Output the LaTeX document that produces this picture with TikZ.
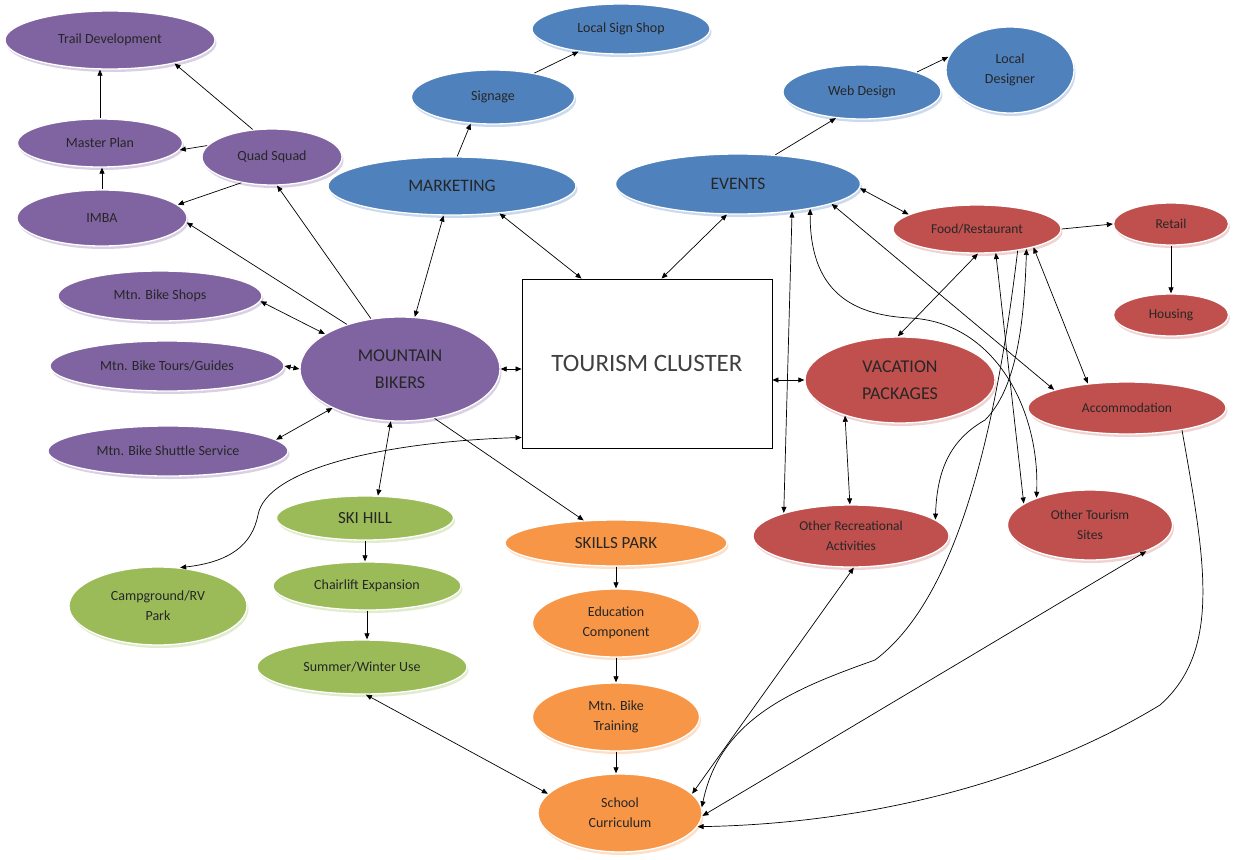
\documentclass[tikz,border=0pt]{standalone}
\usepackage{fontspec}
\setmainfont{Carlito}
\usetikzlibrary{shapes.geometric,shadows,arrows.meta}
\definecolor{mbpurple}{HTML}{8064A2}
\definecolor{mbblue}{HTML}{4F81BD}
\definecolor{mbred}{HTML}{C0504D}
\definecolor{mbgreen}{HTML}{9BBB59}
\definecolor{mborange}{HTML}{F79646}

\begin{document}
\begin{tikzpicture}[x=1pt,y=-1pt,
  bub/.style={ellipse, draw=white, line width=1.3pt, inner sep=0pt, align=center,
    text=black!85, font=\fontsize{14}{20}\selectfont},
  sz/.style 2 args={minimum width=#1pt, minimum height=#2pt},
  pur/.style={bub, fill=mbpurple, drop shadow={shadow xshift=1.5pt, shadow yshift=-3pt, fill=mbpurple!30, opacity=1}},
  blu/.style={bub, fill=mbblue, drop shadow={shadow xshift=1.5pt, shadow yshift=-3pt, fill=mbblue!30, opacity=1}},
  rd/.style={bub, fill=mbred, font=\fontsize{13.5}{20}\selectfont, drop shadow={shadow xshift=1.5pt, shadow yshift=-3pt, fill=mbred!25, opacity=1}},
  grn/.style={bub, fill=mbgreen, drop shadow={shadow xshift=1.5pt, shadow yshift=-3pt, fill=mbgreen!30, opacity=1}},
  org/.style={bub, fill=mborange, drop shadow={shadow xshift=1.5pt, shadow yshift=-3pt, fill=mborange!30, opacity=1}},
  big/.style={font=\fontsize{18}{27}\selectfont},
  link/.style={-{Triangle[length=6pt,width=5pt]}, line width=0.7pt},
  both/.style={{Triangle[length=6pt,width=5pt]}-{Triangle[length=6pt,width=5pt]}, line width=0.7pt}]

\useasboundingbox (0,0) rectangle (1238,859);

% mountain bikers and their links
\node[pur, sz={210}{58}] (td) at (110,40) {Trail Development};
\node[pur, sz={165}{48}] (mp) at (100,143) {Master Plan};
\node[pur, sz={140}{56}] (qs) at (272,157) {Quad Squad};
\node[pur, sz={170}{56}] (imba) at (102,218) {IMBA};
\node[pur, sz={204}{50}] (shops) at (160,296) {Mtn. Bike Shops};
\node[pur, sz={234}{50}] (tours) at (167,366) {Mtn. Bike Tours/Guides};
\node[pur, sz={240}{50}] (shuttle) at (168,451) {Mtn. Bike Shuttle Service};
\node[pur, big, sz={200}{104}] (mb) at (400,369) {MOUNTAIN\\BIKERS};

% marketing and events
\node[blu, big, font=\fontsize{17.5}{20}\selectfont, sz={248}{58}] (mkt) at (452,186) {MARKETING};
\node[blu, sz={163}{54}] (sign) at (493,97) {Signage};
\node[blu, sz={178}{50}] (signshop) at (621,29) {Local Sign Shop};
\node[blu, font=\fontsize{17.5}{20}\selectfont, sz={245}{60}] (events) at (738,184) {EVENTS};
\node[blu, sz={158}{54}] (web) at (862,92) {Web Design};
\node[blu, sz={128}{86}] (designer) at (1010,70) {Local\\Designer};

% the cluster box
\node[draw, line width=0.9pt, minimum width=250pt, minimum height=169pt,
  font=\fontsize{25}{30}\selectfont, text=black!75] (tc) at (647,363.5) {TOURISM CLUSTER};

% red group
\node[rd, sz={168}{48}] (food) at (977,229) {Food/Restaurant};
\node[rd, sz={115}{42}] (retail) at (1171,224) {Retail};
\node[rd, sz={115}{42}] (housing) at (1171,315) {Housing};
\node[rd, big, sz={190}{86}] (vac) at (900,380) {VACATION\\PACKAGES};
\node[rd, sz={198}{52}] (accom) at (1127,408) {Accommodation};
\node[rd, sz={196}{62}] (orec) at (851,536) {Other Recreational\\Activities};
\node[rd, sz={165}{70}] (otour) at (1090,525) {Other Tourism\\Sites};

% green and orange chains
\node[grn, font=\fontsize{17}{20}\selectfont, sz={177}{44}] (ski) at (365,518) {SKI HILL};
\node[grn, sz={188}{48}] (chair) at (367,586) {Chairlift Expansion};
\node[grn, sz={210}{54}] (summer) at (362,667) {Summer/Winter Use};
\node[grn, sz={178}{78}] (camp) at (158,606) {Campground/RV\\Park};
\node[org, font=\fontsize{17}{20}\selectfont, sz={222}{46}] (skills) at (616,543) {SKILLS PARK};
\node[org, sz={167}{68}] (edu) at (616,623) {Education\\Component};
\node[org, sz={167}{68}] (train) at (616,717) {Mtn. Bike\\Training};
\node[org, sz={164}{78}] (school) at (620,813) {School\\Curriculum};

% purple links
\draw[link] (mp.north) -- (mp.north |- td.south);
\draw[link] (imba.north) -- (imba.north |- mp.south);
\draw[link] (qs.125) -- (td.-20);
\draw[link] (qs.170) -- (mp.-5);
\draw[link] (qs.220) -- (imba.10);
\draw[link] (mb.120) -- (qs.-80);
\draw[link] (mb.140) -- (imba.-3);
\draw[both] (shops.-3) -- (mb.155);
\draw[both] (tours.east) -- (mb.west);
\draw[both] (shuttle.6) -- (mb.-150);

% blue links
\draw[both] (mb) -- (mkt);
\draw[link] (mkt.80) -- (sign.-130);
\draw[link] (sign.30) -- (signshop.-152);
\draw[both] (mkt.-30) -- ([xshift=60pt]tc.north west);
\draw[both] (events.-110) -- ([xshift=140pt]tc.north west);
\draw[link] (events.38) -- (web.-135);
\draw[link] (web.20) -- (designer.168);

% into the box
\draw[both] (mb.east) -- (mb.east -| tc.west);
\draw[both] (tc.east |- vac.west) -- (vac.west);
\draw[both] (camp.60) .. controls (230,562) and (252,545) .. (258,515)
  .. controls (266,470) and (380,442) .. ([yshift=11pt]tc.south west);

% ski hill and skills park
\draw[both] (mb.-100) -- (ski.60);
\draw[link] (mb.-55) -- (skills.145);
\foreach \a/\b in {ski/chair, chair/summer, skills/edu, edu/train, train/school}
  \draw[link] (\a.south) -- (\a.south |- \b.north);
\draw[both] (summer.-82) -- (school.165);

% red links
\draw[both] (events.-2) -- (food.168);
\draw[link] (food.east) -- (retail.west);
\draw[link] (retail) -- (housing);
\draw[both] (events.-27) -- (orec.161);
\draw[both] (vac.-147) -- (orec.92);
\draw[both] (food.-88) -- (vac.93);
\draw[both] (food.-52) -- (otour.162);
\draw[both] (food.-18) -- (accom.148);
\draw[both] (events.-12) -- (accom.166);
\draw[both] (events.-19) .. controls (810,290) and (850,315) .. (910,318)
  .. controls (995,322) and (1040,410) .. (otour.153);
\draw[both] (food.-22) .. controls (1024,330) and (1015,390) .. (985,420)
  .. controls (950,440) and (937,470) .. (orec.11);

% down to the school
\draw[both] (school.15) -- (orec.-85);
\draw[both] (school.-2) -- (otour.-25);
\draw[link] (food.-28) .. controls (995,440) and (955,600) .. (875,660)
  .. controls (790,690) and (720,720) .. (school.4);
\draw[link] (accom.-22) .. controls (1205,560) and (1222,650) .. (1160,705)
  .. controls (1020,790) and (850,824) .. (school.-10);
\end{tikzpicture}
\end{document}
